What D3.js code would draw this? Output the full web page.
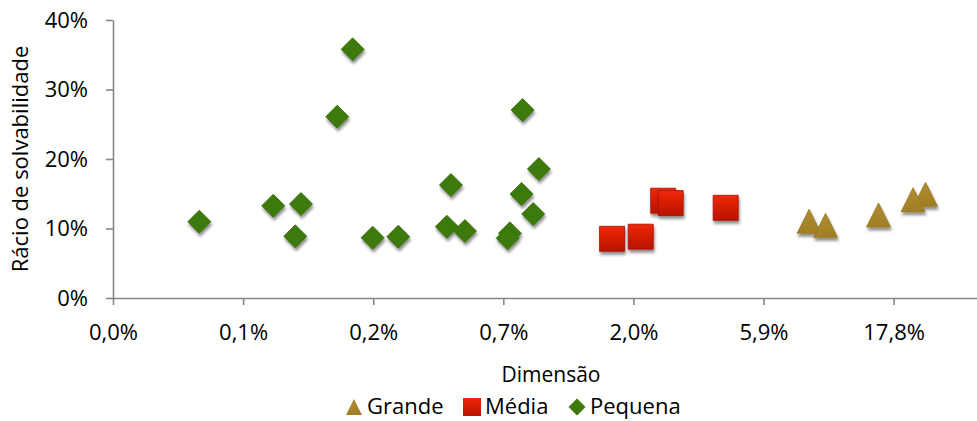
<!DOCTYPE html>
<html>
<head>
<meta charset="utf-8">
<script src="https://cdn.jsdelivr.net/npm/d3@7"></script>
<style>
  html, body { margin: 0; padding: 0; background: #fff; }
  svg { display: block; font-family: "Open Sans", sans-serif; }
</style>
</head>
<body>
<svg id="chart" width="977" height="421"></svg>
<script>
// ---- data ----
const seriesNames = ["Grande", "Média", "Pequena"];

const grandeX = [0.0872, 0.1002, 0.1567, 0.2330, 0.2099];
const grandeY = [0.1104, 0.1046, 0.1194, 0.1492, 0.1415];

const mediaX = [0.01652, 0.02104, 0.02544, 0.0271, 0.04312];
const mediaY = [0.0852, 0.0882, 0.1400, 0.1367, 0.1298];

const pequenaX = [0.000506, 0.000945, 0.001194, 0.001138, 0.001622, 0.001847, 0.002187, 0.002715,
                  0.004236, 0.004094, 0.004768, 0.006971, 0.006837, 0.007759, 0.008904, 0.007693, 0.008486];
const pequenaY = [0.1098, 0.1328, 0.1353, 0.0888, 0.2609, 0.3578, 0.0868, 0.0882,
                  0.1626, 0.1026, 0.0964, 0.0931, 0.0859, 0.2705, 0.1856, 0.1496, 0.1209];

const xTickValues = [0.00024417, 0.00073251, 0.00219753, 0.00659259, 0.01977778, 0.05933333, 0.178];
const xTickLabels = ["0,0%", "0,1%", "0,2%", "0,7%", "2,0%", "5,9%", "17,8%"];
const yTickValues = [0, 0.1, 0.2, 0.3, 0.4];
const yTickLabels = ["0%", "10%", "20%", "30%", "40%"];

const xTitle = "Dimensão";
const yTitle = "Rácio de solvabilidade";

// ---- layout ----
const svg = d3.select("#chart");
const plotLeft = 113, plotRight = 977, plotTop = 20, plotBottom = 298;

const x = d3.scaleLog().base(3).domain([0.00024417, 0.36]).range([plotLeft, plotRight]);
const y = d3.scaleLinear().domain([0, 0.4]).range([plotBottom, plotTop]);

const defs = svg.append("defs");
const f = defs.append("filter").attr("id", "shadow")
  .attr("x", "-50%").attr("y", "-50%").attr("width", "200%").attr("height", "200%");
f.append("feDropShadow").attr("dx", 1).attr("dy", 3).attr("stdDeviation", 1.6)
  .attr("flood-color", "#000").attr("flood-opacity", 0.45);

const gr = defs.append("linearGradient").attr("id", "redGrad")
  .attr("x1", 0).attr("y1", 0).attr("x2", 0).attr("y2", 1);
gr.append("stop").attr("offset", "0%").attr("stop-color", "#f02808");
gr.append("stop").attr("offset", "100%").attr("stop-color", "#b81200");

const gg = defs.append("linearGradient").attr("id", "goldGrad")
  .attr("x1", 0).attr("y1", 0).attr("x2", 0).attr("y2", 1);
gg.append("stop").attr("offset", "0%").attr("stop-color", "#b08c30");
gg.append("stop").attr("offset", "100%").attr("stop-color", "#a07e24");

// custom marker shapes
const triType = {
  draw(ctx, size) {
    const h = Math.sqrt(size) / 2;
    ctx.moveTo(0, -h);
    ctx.lineTo(h, h);
    ctx.lineTo(-h, h);
    ctx.closePath();
  }
};
const diamondType = {
  draw(ctx, size) {
    const h = Math.sqrt(size) / 2;
    ctx.moveTo(0, -h);
    ctx.lineTo(h, 0);
    ctx.lineTo(0, h);
    ctx.lineTo(-h, 0);
    ctx.closePath();
  }
};

const styles = {
  "Grande":  { type: triType, size: 24 * 24, fill: "url(#goldGrad)", stroke: "#96761f" },
  "Média":   { type: d3.symbolSquare, size: 25 * 25, fill: "url(#redGrad)", stroke: "#a31000" },
  "Pequena": { type: diamondType, size: 23 * 23, fill: "#3d7a08", stroke: "#346a06" }
};

// ---- axes ----
const yAxis = d3.axisLeft(y).tickValues(yTickValues)
  .tickFormat((d, i) => yTickLabels[i]).tickSize(7).tickSizeOuter(0).tickPadding(18);
const gy = svg.append("g").attr("transform", `translate(${plotLeft},0)`).call(yAxis);

const xAxis = d3.axisBottom(x).tickValues(xTickValues)
  .tickFormat((d, i) => xTickLabels[i]).tickSize(7).tickSizeOuter(0).tickPadding(19);
const gx = svg.append("g").attr("transform", `translate(0,${plotBottom})`).call(xAxis);

[gx, gy].forEach(g => {
  g.select(".domain").attr("stroke", "#878787").attr("stroke-width", 1.6);
  g.selectAll(".tick line").attr("stroke", "#878787").attr("stroke-width", 1.6);
  g.selectAll(".tick text").attr("fill", "#000").style("font-size", "22px")
    .style("font-family", "'Open Sans', sans-serif");
});

// titles
svg.append("text").attr("x", 551).attr("y", 382).attr("text-anchor", "middle")
  .style("font-size", "21px").attr("fill", "#000").text(xTitle);
svg.append("text").attr("transform", `translate(28,${(plotTop + plotBottom) / 2}) rotate(-90)`)
  .attr("text-anchor", "middle").style("font-size", "22px").attr("fill", "#000").text(yTitle);

// ---- marks ----
const seriesData = [
  { name: "Grande", xs: grandeX, ys: grandeY },
  { name: "Média", xs: mediaX, ys: mediaY },
  { name: "Pequena", xs: pequenaX, ys: pequenaY }
];

const marks = svg.append("g");
seriesData.forEach(s => {
  const st = styles[s.name];
  const pts = s.xs.map((v, i) => ({ x: v, y: s.ys[i] }));
  marks.append("g").attr("filter", "url(#shadow)")
    .selectAll("path").data(pts).join("path")
    .attr("transform", d => `translate(${x(d.x)},${y(d.y)})`)
    .attr("d", d3.symbol().type(st.type).size(st.size))
    .attr("fill", st.fill).attr("stroke", st.stroke).attr("stroke-width", 0.8);
});

// ---- legend ----
const legendItems = [
  { name: "Grande", mx: 354, tx: 367, size: 16 * 16 },
  { name: "Média", mx: 472, tx: 485, size: 18 * 18 },
  { name: "Pequena", mx: 577, tx: 590, size: 17 * 17 }
];
const lg = svg.append("g");
legendItems.forEach(it => {
  const st = styles[it.name];
  lg.append("path").attr("transform", `translate(${it.mx},407)`)
    .attr("d", d3.symbol().type(st.type).size(it.size))
    .attr("fill", st.fill).attr("stroke", "none");
  lg.append("text").attr("x", it.tx).attr("y", 414).style("font-size", "22px")
    .attr("fill", "#000").text(it.name);
});
</script>
</body>
</html>
